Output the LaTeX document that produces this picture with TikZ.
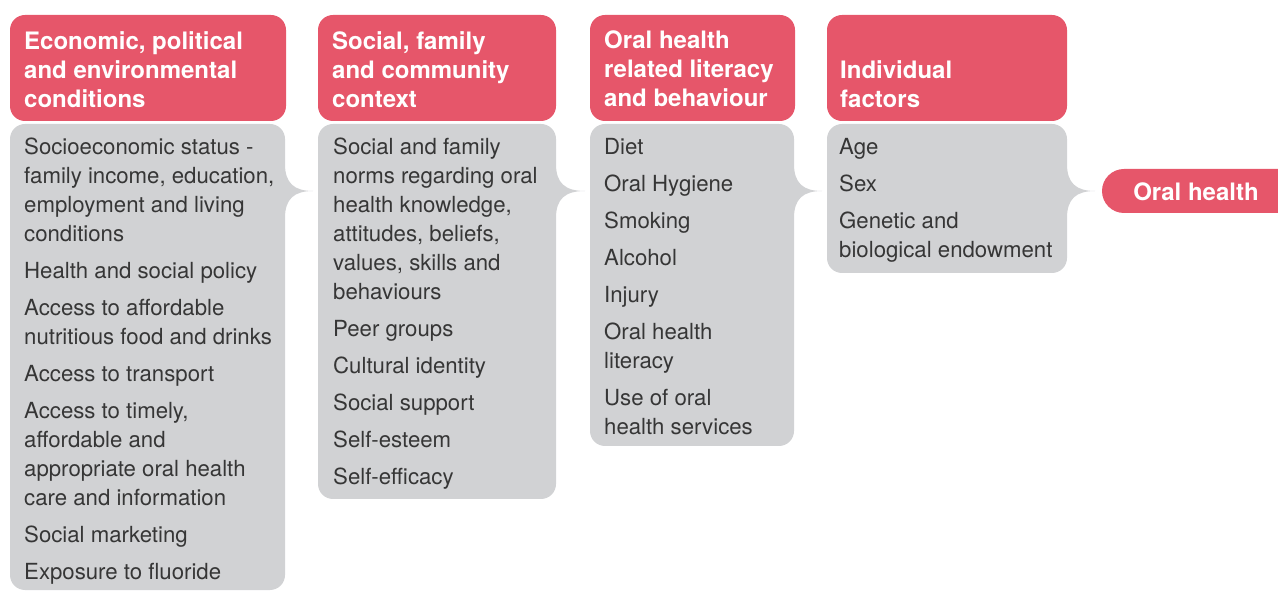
\documentclass[tikz,border=0pt]{standalone}
\usepackage{fontspec}
\setmainfont{TeX Gyre Heros}
\definecolor{hdred}{HTML}{E6566A}
\definecolor{bxgrey}{HTML}{D1D2D4}
\definecolor{txgrey}{HTML}{363636}
\tikzset{
  hdbox/.style={fill=hdred, rounded corners=15pt},
  hdtext/.style={anchor=north west, inner sep=0pt, text=white, align=left,
     font=\fontsize{24}{29}\selectfont\bfseries},
  bdtext/.style={anchor=north west, inner sep=0pt, text=txgrey, align=left,
     font=\fontsize{22.2}{29}\selectfont},
}
% #1 left, #2 top, #3 right, #4 bottom, #5 tip x, #6 tip y
\newcommand\bracebox[6]{%
  \fill[bxgrey] (#3,#6+27) [rounded corners=15pt] -- (#3,#4) -- (#1,#4) -- (#1,#2) -- (#3,#2) [sharp corners] -- (#3,#6-27)
    .. controls (#3,#6-8) and (#3+9,#6) .. (#5,#6)
    .. controls (#3+9,#6) and (#3,#6+8) .. (#3,#6+27) -- cycle;
}
\newcommand\gap{\\[8pt]}
\begin{document}
\begin{tikzpicture}[x=1pt,y=-1pt]
\useasboundingbox (0,0) rectangle (1278,593);
% headers
\fill[hdbox] (10,15) rectangle (286,121);
\fill[hdbox] (318,15) rectangle (556,121);
\fill[hdbox] (590,15) rectangle (795,121);
\fill[hdbox] (827,15) rectangle (1067,121);
% grey boxes with braces
\bracebox{10}{124}{285}{590}{313}{191}
\bracebox{318}{124}{556}{499}{585}{191}
\bracebox{590}{124}{794}{446}{822}{191}
\bracebox{827}{124}{1067}{273}{1095}{191}
% oral health pill
\fill[hdbox, rounded corners=22pt] (1102,169) rectangle (1300,213);
\node[hdtext, anchor=center] (oh) at (1196,191.5) {Oral health};
% header texts
\node[hdtext] (h1) at (24,31) {Economic, political\\and environmental\\conditions};
\node[hdtext] (h2) at (332,31) {Social, family\\and community\\context};
\node[hdtext] (h3) at (604,31) {Oral health\\related literacy\\and behaviour};
\node[hdtext] (h4) at (840,60) {Individual\\factors};
% body texts
\node[bdtext] (b1) at (24,138) {Socioeconomic status -\\family income, education,\\employment and living\\conditions\gap
Health and social policy\gap
Access to affordable\\nutritious food and drinks\gap
Access to transport\gap
Access to timely,\\affordable and\\appropriate oral health\\care and information\gap
Social marketing\gap
Exposure to fluoride};
\node[bdtext] (b2) at (333,138) {Social and family\\norms regarding oral\\health knowledge,\\attitudes, beliefs,\\values, skills and\\behaviours\gap
Peer groups\gap
Cultural identity\gap
Social support\gap
Self-esteem\gap
Self-efficacy};
\node[bdtext] (b3) at (604,138) {Diet\gap
Oral Hygiene\gap
Smoking\gap
Alcohol\gap
Injury\gap
Oral health\\literacy\gap
Use of oral\\health services};
\node[bdtext] (b4) at (839,138) {Age\gap
Sex\gap
Genetic and\\biological endowment};
\end{tikzpicture}
\end{document}
